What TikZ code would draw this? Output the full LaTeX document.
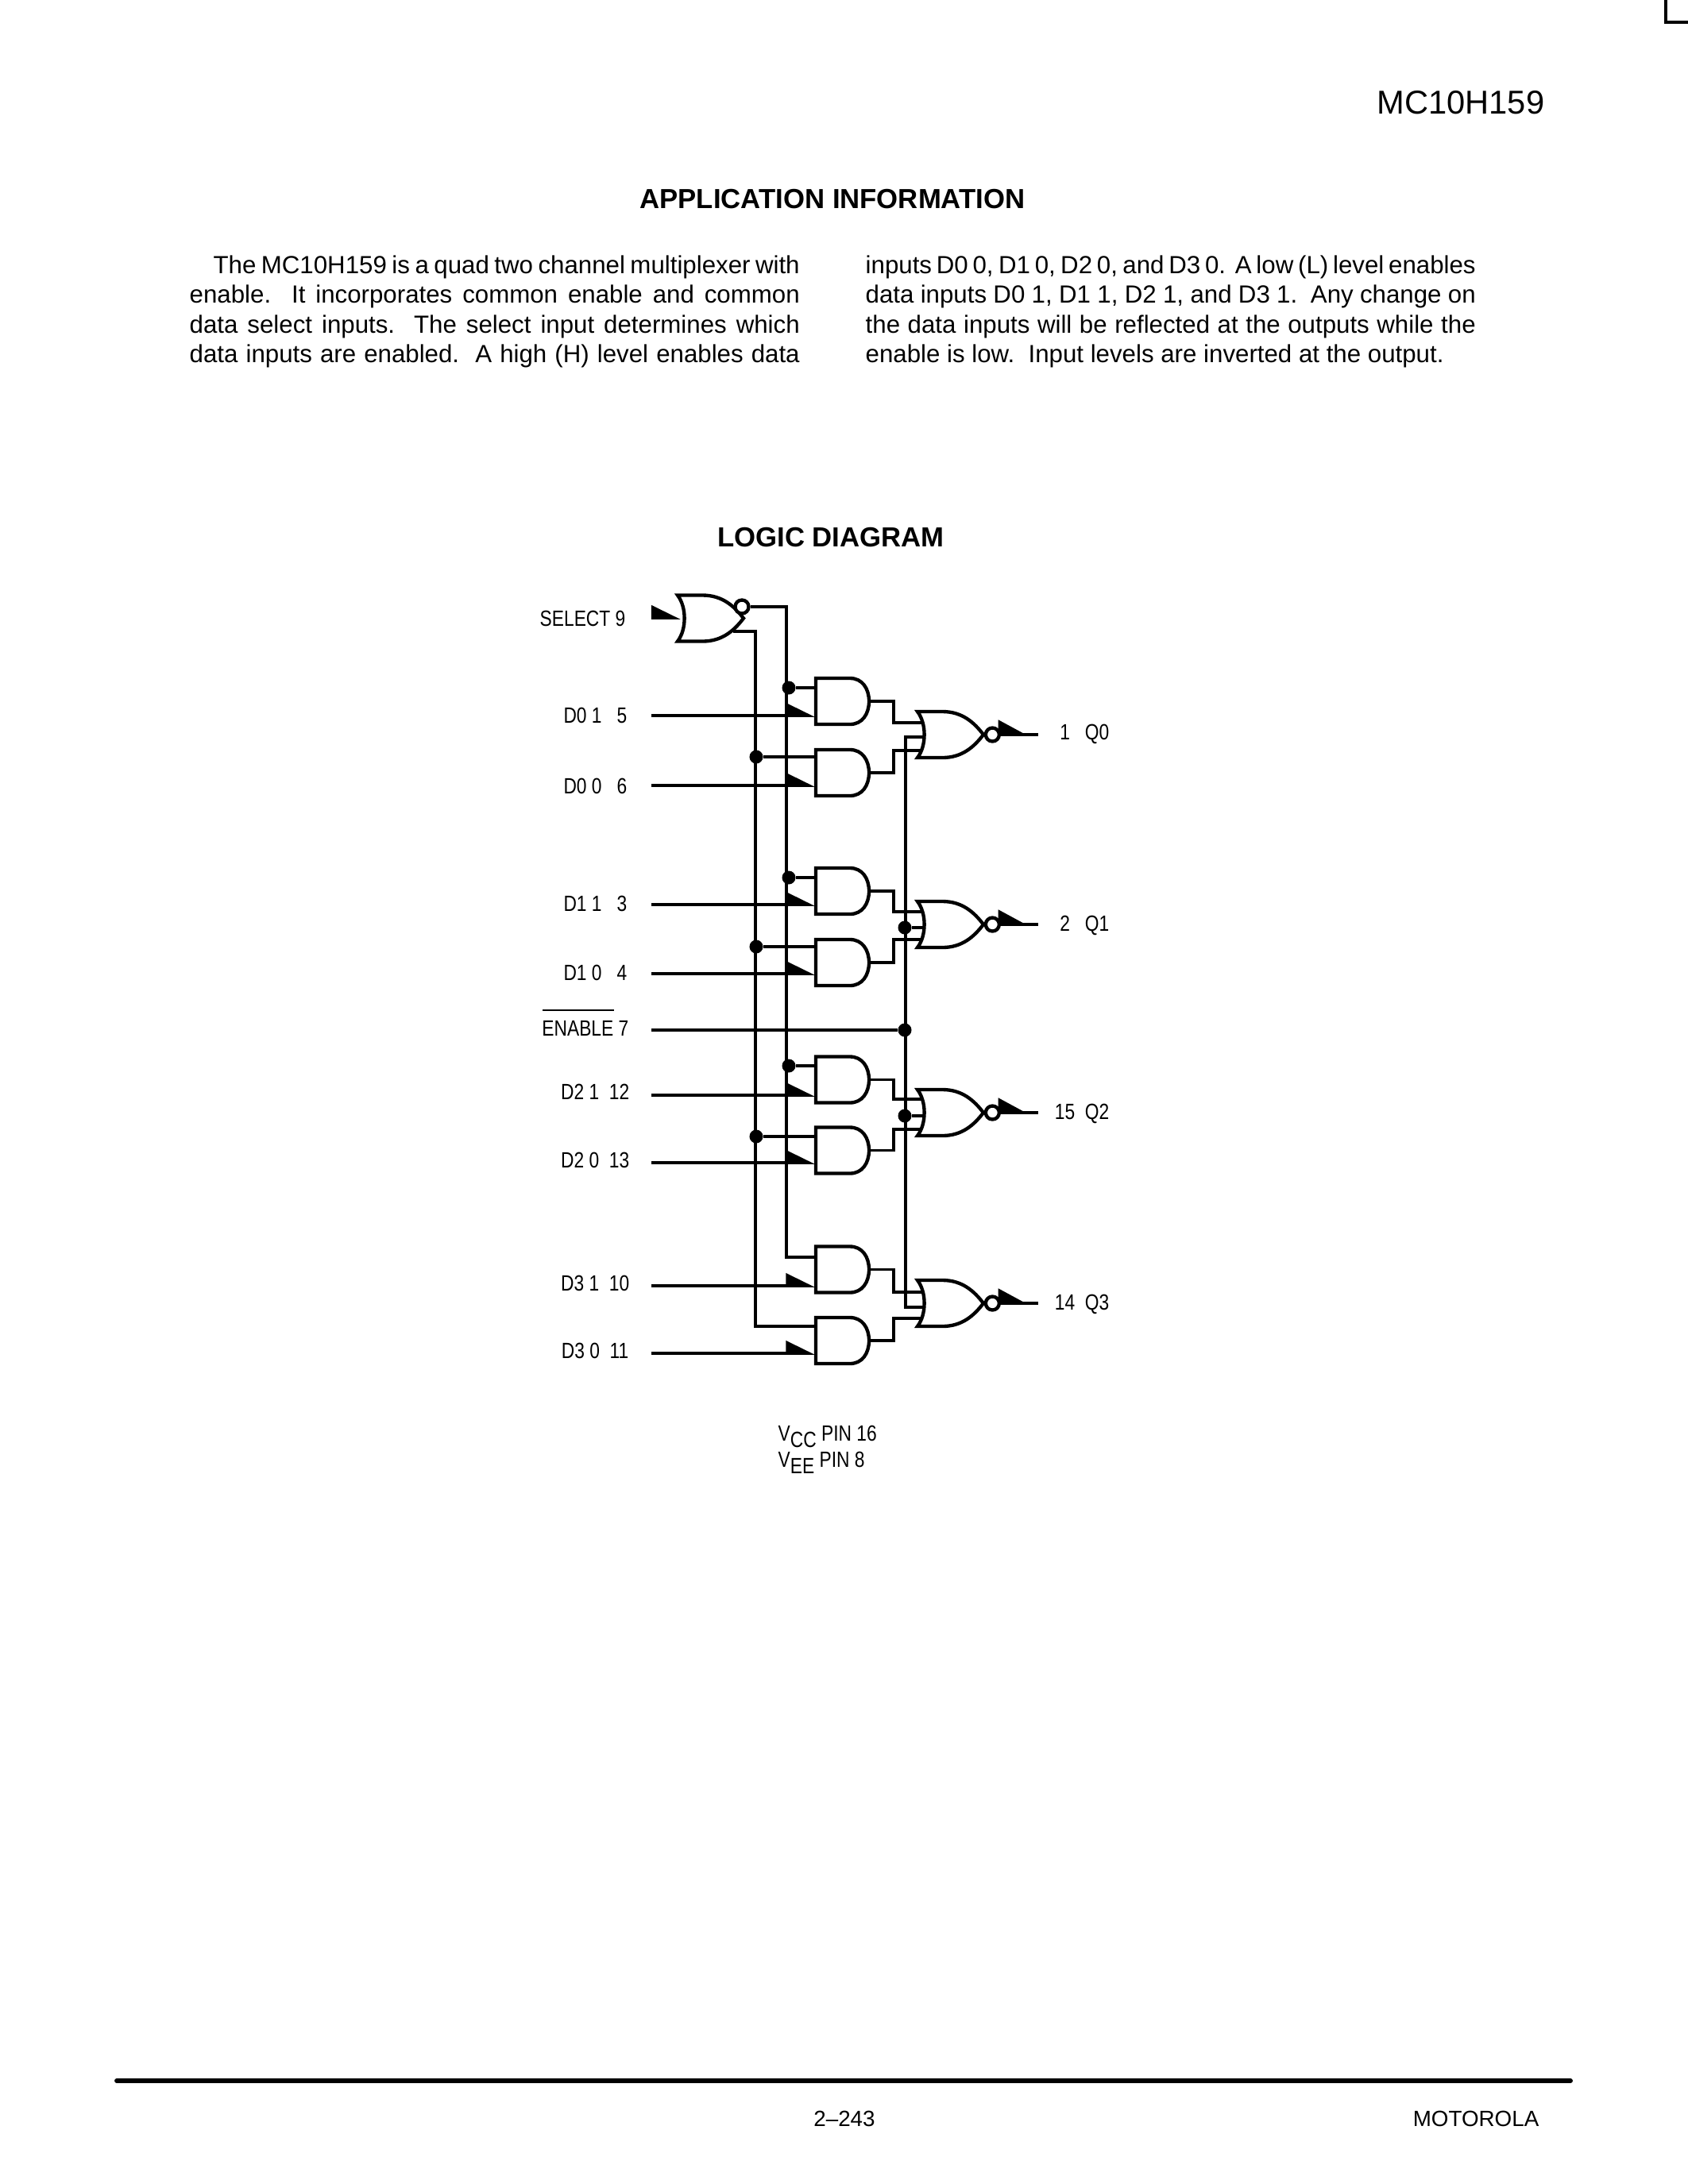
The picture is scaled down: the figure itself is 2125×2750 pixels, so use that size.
\documentclass[tikz,border=0pt]{standalone}
\usepackage{fontspec}
\setmainfont{Liberation Sans}
\newfontfamily\lblfont[FakeStretch=0.82]{Liberation Sans}
\usetikzlibrary{arrows.meta, positioning, calc}
\tikzset{
    wire/.style={
        line width=1.1pt, line join=miter
    },
    gateline/.style={
        line width=1.25pt, line join=miter
    },
    inptr/.style={
        wire, -{Triangle[harpoon,length=9.5pt,width=9pt]}
    },
    outptr/.style={
        wire, -{Triangle[harpoon,length=10pt,width=10.5pt]}
    },
    andgate/.style={
        inner sep=0pt, minimum width=19.3pt, minimum height=16.7pt,
        append after command={\pgfextra{
            \draw[gateline, shift={(\tikzlastnode.center)}] (-33.5,-29) -- (9.5,-29)
                .. controls (25,-29) and (33.5,-16) .. (33.5,0)
                .. controls (33.5,16) and (25,29) .. (9.5,29)
                -- (-33.5,29) -- cycle;
        }}
    },
    orgate/.style={
        inner sep=0pt, minimum width=23.9pt, minimum height=16.7pt,
        append after command={\pgfextra{
            \draw[gateline, shift={(\tikzlastnode.center)}] (-41.5,-29)
                .. controls (-30,-14) and (-30,14) .. (-41.5,29)
                -- (-10,29) .. controls (15,29) and (30,15) .. (41.5,0)
                .. controls (30,-15) and (15,-29) .. (-10,-29) -- cycle;
        }}
    },
    bubble/.style={
        circle, draw, gateline, fill=white, minimum size=4.9pt, inner sep=0pt
    },
    joint/.style={
        circle, fill=black, minimum size=4.9pt, inner sep=0pt
    },
    pinlabel/.style={
        font=\lblfont\fontsize{8}{8}\selectfont, inner sep=0pt
    },
    heading/.style={
        font=\bfseries\fontsize{10}{10}\selectfont, inner sep=0pt, anchor=base
    },
    bodytext/.style={
        font=\fontsize{9}{10.77}\selectfont, inner sep=0pt, anchor=north west,
        text width=221.2pt, align=justify
    }
}
\begin{document}
\begin{tikzpicture}[x=0.288pt, y=-0.288pt]
    \useasboundingbox (0,0) rectangle (2125,2750);

    % --- page text ---
    \draw[line width=1.15pt] (2097,0) -- (2097,28) -- (2125,28);
    \node[font=\fontsize{12}{12}\selectfont, inner sep=0pt, anchor=base east] (partno) at (1945,143) {MC10H159};
    \node[heading] (apptitle) at (1048,262) {APPLICATION INFORMATION};
    \node[bodytext] (colleft) at (238,321) {\hspace*{8.6pt}The MC10H159 is a quad two channel multiplexer with\linebreak
        enable.\ \ It incorporates common enable and common\linebreak
        data select inputs.\ \ The select input determines which\linebreak
        \makebox[221.2pt][s]{data inputs are enabled.\ \ A high (H) level enables data}};
    \node[bodytext] (colright) at (1089,321) {inputs D0 0, D1 0, D2 0, and D3 0.\ \ A low (L) level enables\linebreak
        data inputs D0 1, D1 1, D2 1, and D3 1.\ \ Any change on\linebreak
        the data inputs will be reflected at the outputs while the\linebreak
        enable is low.\ \ Input levels are inverted at the output.};
    \node[heading] (logictitle) at (1046,688) {LOGIC DIAGRAM};

    % Gates
    \node[orgate] (sg) at (894.5,778.5) {};
    \node[andgate] (a1) at (1060.5,883) {};
    \node[andgate] (a2) at (1060.5,973) {};
    \node[andgate] (a3) at (1060.5,1122) {};
    \node[andgate] (a4) at (1060.5,1212) {};
    \node[andgate] (a5) at (1060.5,1359.5) {};
    \node[andgate] (a6) at (1060.5,1448.5) {};
    \node[andgate] (a7) at (1060.5,1598.5) {};
    \node[andgate] (a8) at (1060.5,1688) {};
    \node[orgate] (o1) at (1196.5,925) {};
    \node[orgate] (o2) at (1196.5,1164) {};
    \node[orgate] (o3) at (1196.5,1401) {};
    \node[orgate] (o4) at (1196.5,1641) {};

    % Pin labels
    \node[pinlabel, anchor=base east] (lsel) at (788,788) {SELECT 9};
    \node[pinlabel, anchor=base east] (l1) at (790,910) {D0 1\ \ \ 5};
    \node[pinlabel, anchor=base east] (l2) at (790,999) {D0 0\ \ \ 6};
    \node[pinlabel, anchor=base east] (l3) at (790,1147) {D1 1\ \ \ 3};
    \node[pinlabel, anchor=base east] (l4) at (790,1234) {D1 0\ \ \ 4};
    \node[pinlabel, anchor=base east] (len) at (792,1304) {ENABLE 7};
    \node[pinlabel, anchor=base east] (l5) at (793,1384) {D2 1\ \ 12};
    \node[pinlabel, anchor=base east] (l6) at (793,1470) {D2 0\ \ 13};
    \node[pinlabel, anchor=base east] (l7) at (793,1625) {D3 1\ \ 10};
    \node[pinlabel, anchor=base east] (l8) at (792,1710) {D3 0\ \ 11};
    \node[pinlabel, anchor=base east] (q0) at (1397,931) {1\ \ \ Q0};
    \node[pinlabel, anchor=base east] (q1) at (1397,1172) {2\ \ \ Q1};
    \node[pinlabel, anchor=base east] (q2) at (1397,1409) {15\ \ Q2};
    \node[pinlabel, anchor=base east] (q3) at (1397,1649) {14\ \ Q3};
    \node[pinlabel, anchor=base west] (vcc) at (979,1814) {V\raisebox{-2.5pt}{CC} PIN 16};
    \node[pinlabel, anchor=base west] (vee) at (979,1847) {V\raisebox{-2.5pt}{EE} PIN 8};
    \coordinate (ovl) at (683,1272);
    \coordinate (ovr) at (773,1272);
    \draw[line width=0.7pt] (ovl) -- (ovr);

    % Select gate and its two buses
    \node[bubble] (sb) at (934,764) {};
    \coordinate (isel) at (820,778);
    \coordinate (tsel) at (857,778);
    \coordinate (slow) at (923,795);
    \coordinate (bust) at (990,1583);
    \coordinate (busc) at (951,1670);
    \draw[inptr] (isel) -- (tsel);
    \draw[wire] (sb.east) -| (bust) -- (bust -| a7.west);
    \draw[wire] (slow) -| (busc) -- (busc -| a8.west);

    % Joints on the buses
    \node[joint] (j1) at (993,866) {};
    \node[joint] (j2) at (952,953) {};
    \node[joint] (j3) at (993,1105) {};
    \node[joint] (j4) at (952,1192) {};
    \node[joint] (j5) at (993,1342) {};
    \node[joint] (j6) at (952,1431) {};
    \draw[wire] (j1) -- (j1 -| a1.west);
    \draw[wire] (j2) -- (j2 -| a2.west);
    \draw[wire] (j3) -- (j3 -| a3.west);
    \draw[wire] (j4) -- (j4 -| a4.west);
    \draw[wire] (j5) -- (j5 -| a5.west);
    \draw[wire] (j6) -- (j6 -| a6.west);

    % Data inputs
    \coordinate (i1) at (820,901);
    \coordinate (i2) at (820,989);
    \coordinate (i3) at (820,1139);
    \coordinate (i4) at (820,1226);
    \coordinate (i5) at (820,1379);
    \coordinate (i6) at (820,1464);
    \coordinate (i7) at (820,1619);
    \coordinate (i8) at (820,1704);
    \draw[inptr] (i1) -- (i1 -| a1.west);
    \draw[inptr] (i2) -- (i2 -| a2.west);
    \draw[inptr] (i3) -- (i3 -| a3.west);
    \draw[inptr] (i4) -- (i4 -| a4.west);
    \draw[inptr] (i5) -- (i5 -| a5.west);
    \draw[inptr] (i6) -- (i6 -| a6.west);
    \draw[inptr] (i7) -- (i7 -| a7.west);
    \draw[inptr] (i8) -- (i8 -| a8.west);

    % AND outputs into the NOR gates
    \coordinate (o1a) at (1161,910);
    \coordinate (o1b) at (1161,945);
    \coordinate (o2a) at (1161,1148);
    \coordinate (o2b) at (1161,1183);
    \coordinate (o3a) at (1161,1384);
    \coordinate (o3b) at (1161,1422);
    \coordinate (o4a) at (1161,1627);
    \coordinate (o4b) at (1161,1660);
    \draw[wire] (a1.east) -- ++(30,0) |- (o1a);
    \draw[wire] (a2.east) -- ++(30,0) |- (o1b);
    \draw[wire] (a3.east) -- ++(30,0) |- (o2a);
    \draw[wire] (a4.east) -- ++(30,0) |- (o2b);
    \draw[wire] (a5.east) -- ++(30,0) |- (o3a);
    \draw[wire] (a6.east) -- ++(30,0) |- (o3b);
    \draw[wire] (a7.east) -- ++(30,0) |- (o4a);
    \draw[wire] (a8.east) -- ++(30,0) |- (o4b);

    % Enable line
    \coordinate (ien) at (820,1297);
    \coordinate (o1c) at (1163,928);
    \coordinate (o2c) at (1163,1168);
    \coordinate (o3c) at (1163,1405);
    \coordinate (o4c) at (1163,1646);
    \coordinate (ebus) at (1140,1297);
    \node[joint] (j7) at (1139,1297) {};
    \node[joint] (j8) at (1139,1168) {};
    \node[joint] (j9) at (1139,1405) {};
    \draw[wire] (ien) -- (j7);
    \draw[wire] (o1c) -| (ebus) |- (o4c);
    \draw[wire] (j8) -- (o2c);
    \draw[wire] (j9) -- (o3c);

    % NOR outputs
    \node[bubble, right=0pt of o1] (b1) {};
    \node[bubble, right=0pt of o2] (b2) {};
    \node[bubble, right=0pt of o3] (b3) {};
    \node[bubble, right=0pt of o4] (b4) {};
    \coordinate (e1) at (1307,925);
    \coordinate (e2) at (1307,1164);
    \coordinate (e3) at (1307,1401);
    \coordinate (e4) at (1307,1641);
    \draw[wire] (b1.east) -- (e1);
    \draw[wire] (b2.east) -- (e2);
    \draw[wire] (b3.east) -- (e3);
    \draw[wire] (b4.east) -- (e4);
    \draw[outptr] (b1.east) -- ++(35,0);
    \draw[outptr] (b2.east) -- ++(35,0);
    \draw[outptr] (b3.east) -- ++(35,0);
    \draw[outptr] (b4.east) -- ++(35,0);

    % Footer
    \coordinate (rulel) at (147,2620);
    \coordinate (ruler) at (1977,2620);
    \draw[line width=1.7pt, line cap=round] (rulel) -- (ruler);
    \node[font=\fontsize{8}{8}\selectfont, inner sep=0pt, anchor=base] (pageno) at (1063,2677) {2--243};
    \node[font=\fontsize{8}{8}\selectfont, inner sep=0pt, anchor=base east] (brand) at (1938,2677) {MOTOROLA};
\end{tikzpicture}
\end{document}
